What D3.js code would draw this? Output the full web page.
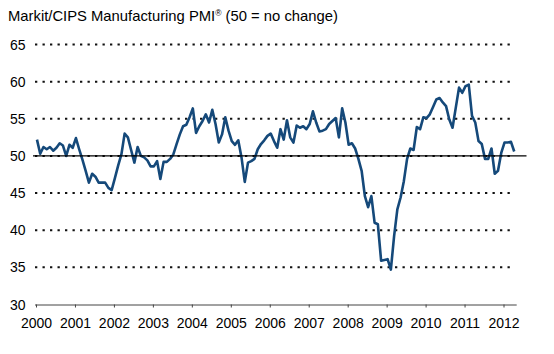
<!DOCTYPE html>
<html lang="en">
<head>
  <meta charset="UTF-8">
  <title>Markit/CIPS Manufacturing PMI</title>
  <script src="https://cdnjs.cloudflare.com/ajax/libs/d3/7.8.5/d3.min.js"></script>
  <style>
    * { margin: 0; padding: 0; }
    html, body { background: #fff; }
    svg text { font-family: "Liberation Sans", Arial, Helvetica, sans-serif; fill: #000; }
  </style>
</head>
<body>
<div id="chart"></div>
<script>
  // monthly PMI readings, Jan..Dec of each year
  const pmi2000 = [52.2, 50.3, 51.2, 50.9, 51.2, 50.7, 51.1, 51.7, 51.4, 50.0, 51.5, 51.1]
  const pmi2001 = [52.4, 50.9, 49.5, 48.0, 46.4, 47.6, 47.2, 46.4, 46.4, 46.4, 45.7, 45.4]
  const pmi2002 = [47.0, 48.7, 50.2, 53.0, 52.5, 50.8, 49.1, 51.2, 50.0, 49.8, 49.4, 48.6]
  const pmi2003 = [48.6, 49.3, 46.9, 49.2, 49.2, 49.6, 50.2, 51.6, 52.9, 54.0, 54.2, 55.2]
  const pmi2004 = [56.4, 53.1, 54.0, 54.7, 55.6, 54.5, 56.2, 54.3, 51.8, 52.9, 55.2, 53.4]
  const pmi2005 = [52.0, 51.5, 52.1, 49.8, 46.5, 49.1, 49.3, 49.6, 50.9, 51.6, 52.1, 52.7]
  const pmi2006 = [53.0, 52.0, 51.1, 53.6, 52.2, 54.8, 52.5, 51.8, 54.1, 53.8, 54.0, 53.6]
  const pmi2007 = [54.3, 56.0, 54.5, 53.3, 53.4, 53.6, 54.3, 54.7, 55.1, 52.5, 56.4, 54.5]
  const pmi2008 = [51.5, 51.7, 51.0, 49.6, 48.0, 44.6, 43.1, 44.6, 41.0, 40.8, 35.9, 36.0]
  const pmi2009 = [36.1, 34.7, 39.2, 42.8, 44.4, 46.6, 49.6, 51.0, 50.8, 53.9, 53.6, 55.2]
  const pmi2010 = [55.1, 55.6, 56.6, 57.6, 57.8, 57.2, 56.7, 54.9, 53.8, 56.5, 59.2, 58.5]
  const pmi2011 = [59.4, 59.6, 55.4, 54.5, 52.0, 51.6, 49.6, 49.6, 51.0, 47.6, 48.0, 50.4]
  const pmi2012 = [51.8, 51.8, 51.9, 50.6]

  const years = [2000, 2001, 2002, 2003, 2004, 2005, 2006, 2007, 2008, 2009, 2010, 2011, 2012]
  const yTicks = [30, 35, 40, 45, 50, 55, 60, 65]
  const title = 'Markit/CIPS Manufacturing PMI'

  const byYear = [pmi2000, pmi2001, pmi2002, pmi2003, pmi2004, pmi2005, pmi2006,
                  pmi2007, pmi2008, pmi2009, pmi2010, pmi2011, pmi2012]
  const data = []
  byYear.forEach((arr, i) => arr.forEach((v, m) => data.push({ t: years[i] + (m + 0.3) / 12, v: v })))

  const W = 554, H = 354
  const x = d3.scaleLinear().domain([2000, 2012 + 4 / 12]).range([36, 516.5])
  const y = d3.scaleLinear().domain([30, 65]).range([304.5, 44.5])

  const svg = d3.select('#chart').append('svg')
    .attr('width', W).attr('height', H)

  // title
  const tt = svg.append('text').attr('x', 8).attr('y', 20.5).style('font-size', '14.8px')
  tt.append('tspan').text(title)
  tt.append('tspan').attr('dy', -5).style('font-size', '8.5px').text('®')
  tt.append('tspan').attr('dy', 5).text(' (50 = no change)')

  // dotted gridlines
  svg.append('g').selectAll('line').data(yTicks.filter(d => d > 30)).join('line')
    .attr('x1', 35).attr('x2', 513)
    .attr('y1', d => y(d)).attr('y2', d => y(d))
    .attr('stroke', '#111').attr('stroke-width', 2)
    .attr('stroke-dasharray', '2.3,5.2')

  // y labels
  svg.append('g').selectAll('text').data(yTicks).join('text')
    .attr('x', 25.5).attr('y', d => y(d)).attr('dy', '0.36em')
    .attr('text-anchor', 'end').style('font-size', '14px')
    .text(d => d)

  // x axis
  const xAxis = d3.axisBottom(x).tickValues(years).tickSize(3).tickFormat(d3.format('d'))
  const gx = svg.append('g').attr('transform', `translate(0,${y(30)})`).call(xAxis)
  gx.select('.domain').attr('stroke', '#444').attr('d', `M35,0.5H516.7`)
  gx.selectAll('.tick line').attr('stroke', '#444')
  gx.selectAll('.tick text').attr('y', 0).attr('dy', '1.65em')
    .style('font-size', '14px').style('font-family', '"Liberation Sans", Arial, sans-serif')
    .attr('fill', '#000')

  // line
  const line = d3.line().x(d => x(d.t)).y(d => y(d.v))
  svg.append('path').datum(data)
    .attr('fill', 'none').attr('stroke', '#15497a').attr('stroke-width', 2.6)
    .attr('stroke-linejoin', 'round')
    .attr('d', line)

  // 50 = no change
  svg.append('line')
    .attr('x1', 33).attr('x2', 526.5)
    .attr('y1', y(50)).attr('y2', y(50))
    .attr('stroke', '#000').attr('stroke-width', 1.3)
</script>
</body>
</html>
